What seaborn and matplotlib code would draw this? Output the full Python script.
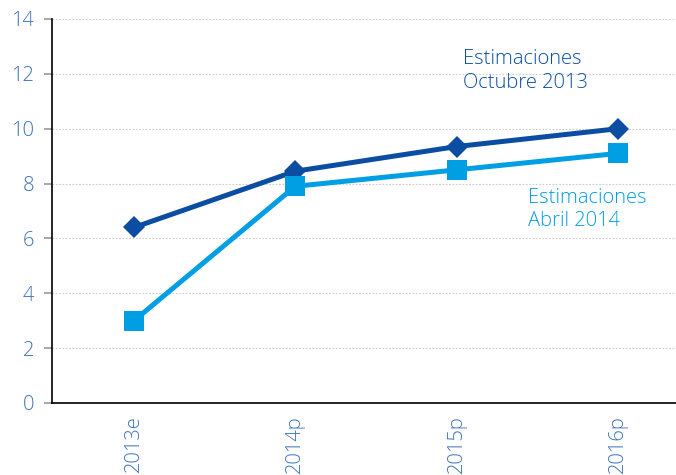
import numpy as np
import pandas as pd
import matplotlib
matplotlib.use("Agg")
import matplotlib.pyplot as plt
import seaborn as sns

# -------------------------------------------------------
# Data
# -------------------------------------------------------

years = ["2013e", "2014p", "2015p", "2016p"]
octubre_2013 = [6.4, 8.45, 9.35, 10.0]
abril_2014 = [3.0, 7.9, 8.5, 9.1]

series_names = ["Estimaciones\nOctubre 2013", "Estimaciones\nAbril 2014"]

df = pd.DataFrame({
    "Year": years * 2,
    "pos": list(range(len(years))) * 2,
    "Value": octubre_2013 + abril_2014,
    "Serie": [series_names[0]] * len(years) + [series_names[1]] * len(years),
})

dark_blue = "#0a4da2"
light_blue = "#009fe3"
label_color = "#3c72bb"

sns.set_style("white")
plt.rcParams["font.family"] = ["Open Sans", "DejaVu Sans"]

fig = plt.figure(figsize=(6.76, 4.75), dpi=100)
ax = fig.add_axes([52 / 676, 72 / 475, 1 - 52 / 676, 384 / 475])

sns.lineplot(
    data=df,
    x="pos",
    y="Value",
    hue="Serie",
    style="Serie",
    markers={series_names[0]: "D", series_names[1]: "s"},
    dashes=False,
    palette={series_names[0]: dark_blue, series_names[1]: light_blue},
    linewidth=3.6,
    markeredgewidth=0,
    legend=False,
    ax=ax,
)

# marker sizes differ per series
for line, ms in zip(ax.get_lines(), [11, 14]):
    line.set_markersize(ms)

ax.set_ylim(0, 14)
ax.set_xlim(-0.508, 3.36)
ax.set_yticks(range(0, 15, 2))
ax.set_xticks(range(len(years)))
ax.set_xticklabels(years, rotation=90)
ax.set_xticks([-0.5, 1.5], minor=True)

ax.tick_params(axis="x", which="major", length=0, pad=9,
               labelsize=14.5, labelcolor=label_color)
ax.tick_params(axis="x", which="minor", length=5, width=1.2, color="#999999")
ax.tick_params(axis="y", length=6, width=1.2, color="#999999", pad=7,
               labelsize=14.5, labelcolor=label_color, left=True)

for lab in ax.get_xticklabels() + ax.get_yticklabels():
    lab.set_fontweight("light")

ax.set_xlabel("")
ax.set_ylabel("")

ax.yaxis.grid(True, linestyle=(0, (1.5, 1.5)), color="#cccccc", linewidth=0.8)
ax.set_axisbelow(True)

sns.despine(ax=ax, top=True, right=True)
ax.spines["left"].set_color("black")
ax.spines["bottom"].set_color("black")
ax.spines["left"].set_linewidth(1.2)
ax.spines["bottom"].set_linewidth(1.2)

ax.text(2.04, 12.9, series_names[0], color=dark_blue, fontsize=14.5,
        fontweight="light", va="top", ha="left", linespacing=1.25)
ax.text(2.44, 7.85, series_names[1], color=light_blue, fontsize=14.5,
        fontweight="light", va="top", ha="left", linespacing=1.25)

fig.savefig("out.png", dpi=100)
